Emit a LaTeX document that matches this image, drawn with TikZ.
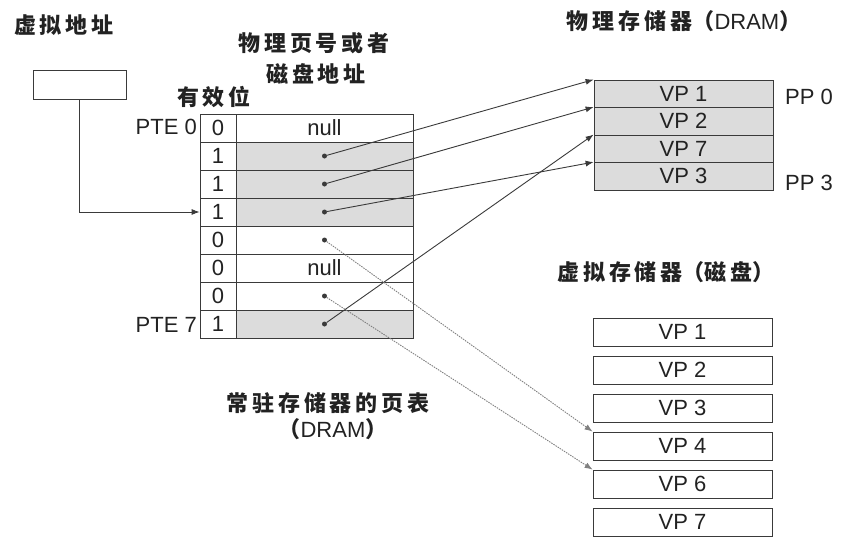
\documentclass[tikz,border=0pt]{standalone}
\usepackage{fontspec}
\setmainfont{Liberation Sans}
\newfontfamily\cjk[LetterSpace=18]{Noto Sans CJK SC}
\newfontfamily\cjkp{Noto Sans CJK SC}
\usetikzlibrary{arrows.meta}
\definecolor{cellgray}{HTML}{DCDCDC}
\definecolor{linec}{HTML}{3A3A3A}
\definecolor{txt}{HTML}{222222}
\newcommand{\lat}[1]{{\rmfamily\mdseries\fontsize{22}{22}\selectfont #1}}
\begin{document}
\begin{tikzpicture}[x=1pt,y=-1pt,
  box/.style={draw=linec,line width=0.8pt,minimum height=28pt,inner sep=0pt,text=txt,font=\fontsize{22}{22}\selectfont},
  vcell/.style={box,minimum width=36pt},
  dcell/.style={box,minimum width=177pt},
  gcell/.style={dcell,fill=cellgray},
  pmem/.style={box,fill=cellgray,minimum width=179pt,minimum height=27.5pt},
  dmem/.style={box,minimum width=179pt,minimum height=28pt},
  lbl/.style={font=\fontsize{22}{22}\selectfont,inner sep=0pt,text=txt},
  zh/.style={font=\cjk\bfseries\fontsize{22}{22}\selectfont,inner sep=0pt,text=txt},
  ptr/.style={circle,fill=linec,inner sep=0pt,minimum size=5pt},
  link/.style={draw=linec,line width=0.9pt,-{Latex[length=8pt,width=6pt]}},
  dlink/.style={draw=gray,line width=0.9pt,dash pattern=on 1.5pt off 1pt,-{Latex[length=8pt,width=6pt]}}
]
\useasboundingbox (0,0) rectangle (857,555);
% titles
\node[zh] (tva) at (64,25) {虚拟地址};
\node[zh] (tpp) at (314,43) {物理页号或者};
\node[zh] (tpq) at (316,74) {磁盘地址};
\node[zh] (tvb) at (214,97) {有效位};
\node[zh] (tpm) at (684,21) {物理存储器{\cjkp（}\lat{DRAM}{\cjkp）}};
\node[zh] (tdm) at (666,272) {虚拟存储器{\cjkp（}磁盘{\cjkp）}};
\node[zh] (tpt) at (328,403) {常驻存储器的页表};
\node[zh] (tpu) at (333,429) {{\cjkp（}\lat{DRAM}{\cjkp）}};
% virtual address box
\node[draw=linec,line width=0.8pt,minimum width=93pt,minimum height=29pt,inner sep=0pt] (va) at (79.5,84.5) {};
% page table
\foreach \i/\v in {0/0,1/1,2/1,3/1,4/0,5/0,6/0,7/1} {
  \node[vcell] (v\i) at (218,128+28*\i) {\v};
}
\node[dcell] (d0) at (324.5,128) {null};
\node[gcell] (d1) at (324.5,156) {};
\node[gcell] (d2) at (324.5,184) {};
\node[gcell] (d3) at (324.5,212) {};
\node[dcell] (d4) at (324.5,240) {};
\node[dcell] (d5) at (324.5,268) {null};
\node[dcell] (d6) at (324.5,296) {};
\node[gcell] (d7) at (324.5,324) {};
\foreach \i in {1,2,3,4,6,7} { \node[ptr] (p\i) at (d\i.center) {}; }
\node[lbl,anchor=east] (pte0) at (197,127) {PTE 0};
\node[lbl,anchor=east] (pte7) at (197,325) {PTE 7};
% physical memory
\node[pmem] (m0) at (683.5,93.75) {VP 1};
\node[pmem] (m1) at (683.5,121.25) {VP 2};
\node[pmem] (m2) at (683.5,148.75) {VP 7};
\node[pmem] (m3) at (683.5,176.25) {VP 3};
\node[lbl,anchor=west] (pp0) at (785,97) {PP 0};
\node[lbl,anchor=west] (pp3) at (785,183) {PP 3};
% disk
\foreach \i/\t in {0/1,1/2,2/3,3/4,4/6,5/7} {
  \node[dmem] (k\i) at (682.5,332+38*\i) {VP \t};
}
% connectors
\draw[draw=linec,line width=0.8pt,-{Latex[length=8pt,width=6pt]}] (va.south) |- (v3.west);
\draw[link] (p1) -- (m0.north west);
\draw[link] (p2) -- (m1.north west);
\draw[link] (p3) -- (m3.north west);
\draw[link] (p7) -- (m2.north west);
\draw[dlink] (p4) -- (k3.north west);
\draw[dlink] (p6) -- (k4.north west);
\end{tikzpicture}
\end{document}
